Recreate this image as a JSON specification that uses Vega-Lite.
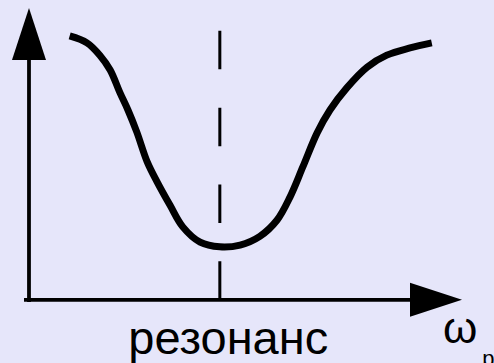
{
  "$schema": "https://vega.github.io/schema/vega-lite/v6.json",
  "width": 494,
  "height": 363,
  "autosize": {"type": "none"},
  "padding": 0,
  "background": "#e6e6fa",
  "config": {"view": {"stroke": null}},
  "datasets": {
    "curve": [
      {"x": 14.1, "y": 90.1}, {"x": 17.6, "y": 88.2}, {"x": 20.2, "y": 84.8}, {"x": 22.3, "y": 80.7},
      {"x": 24.3, "y": 74.4}, {"x": 25.9, "y": 69.7}, {"x": 27.7, "y": 63.6}, {"x": 29.8, "y": 55.4},
      {"x": 31.8, "y": 49.9}, {"x": 34.4, "y": 43.5}, {"x": 37.0, "y": 37.5}, {"x": 40.5, "y": 33.3},
      {"x": 44.5, "y": 32.0}, {"x": 48.6, "y": 32.5}, {"x": 52.6, "y": 34.9}, {"x": 56.1, "y": 39.4},
      {"x": 58.7, "y": 45.7}, {"x": 61.3, "y": 54.0}, {"x": 64.2, "y": 63.4}, {"x": 66.8, "y": 69.7},
      {"x": 70.2, "y": 75.8}, {"x": 74.3, "y": 81.5}, {"x": 78.3, "y": 84.8}, {"x": 83.0, "y": 86.8},
      {"x": 87.4, "y": 88.2}
    ],
    "axes": [
      {"axis": "y", "x": 5.87, "y": 16.8, "x2": 5.87, "y2": 83.5},
      {"axis": "x", "x": 4.86, "y": 17.4, "x2": 83.2, "y2": 17.4}
    ],
    "resonance": [{"x": 44.5, "y": 91.5, "y2": 17.4}],
    "yhead": [{"x": 5.87, "y": 90.6}],
    "xhead": [{"x": 88.26, "y": 17.4}],
    "label": [{"x": 46.2, "y": 2.5, "text": "резонанс"}],
    "omega": [{"x": 89.7, "y": 5.5, "text": "ω"}],
    "sub": [{"x": 97.6, "y": -0.8, "text": "р"}]
  },
  "encoding": {
    "x": {"field": "x", "type": "quantitative", "axis": null, "scale": {"domain": [0, 100], "nice": false, "zero": false}},
    "y": {"field": "y", "type": "quantitative", "axis": null, "scale": {"domain": [0, 100], "nice": false, "zero": false}}
  },
  "layer": [
    {
      "data": {"name": "axes"},
      "mark": {"type": "rule", "color": "#000000", "strokeWidth": 3.8},
      "encoding": {"x2": {"field": "x2"}, "y2": {"field": "y2"}}
    },
    {
      "data": {"name": "resonance"},
      "mark": {"type": "rule", "color": "#000000", "strokeWidth": 3, "strokeDash": [38.5, 38.3]},
      "encoding": {"y2": {"field": "y2"}}
    },
    {
      "data": {"name": "curve"},
      "mark": {"type": "line", "color": "#000000", "strokeWidth": 7, "interpolate": "catmull-rom", "strokeCap": "butt"},
      "encoding": {}
    },
    {
      "data": {"name": "yhead"},
      "mark": {"type": "point", "filled": true, "color": "#000000", "opacity": 1, "size": 2704, "shape": "M0,-1L0.654,1L-0.654,1Z"},
      "encoding": {}
    },
    {
      "data": {"name": "xhead"},
      "mark": {"type": "point", "filled": true, "color": "#000000", "opacity": 1, "size": 2704, "shape": "M1,0L-1,-0.654L-1,0.654Z"},
      "encoding": {}
    },
    {
      "data": {"name": "label"},
      "mark": {"type": "text", "font": "Liberation Sans", "fontSize": 47, "color": "#000000", "align": "center", "baseline": "alphabetic"},
      "encoding": {"text": {"field": "text"}}
    },
    {
      "data": {"name": "omega"},
      "mark": {"type": "text", "font": "Liberation Sans", "fontSize": 44, "color": "#000000", "align": "left", "baseline": "alphabetic"},
      "encoding": {"text": {"field": "text"}}
    },
    {
      "data": {"name": "sub"},
      "mark": {"type": "text", "font": "Liberation Sans", "fontSize": 22, "color": "#000000", "align": "left", "baseline": "alphabetic"},
      "encoding": {"text": {"field": "text"}}
    }
  ]
}
